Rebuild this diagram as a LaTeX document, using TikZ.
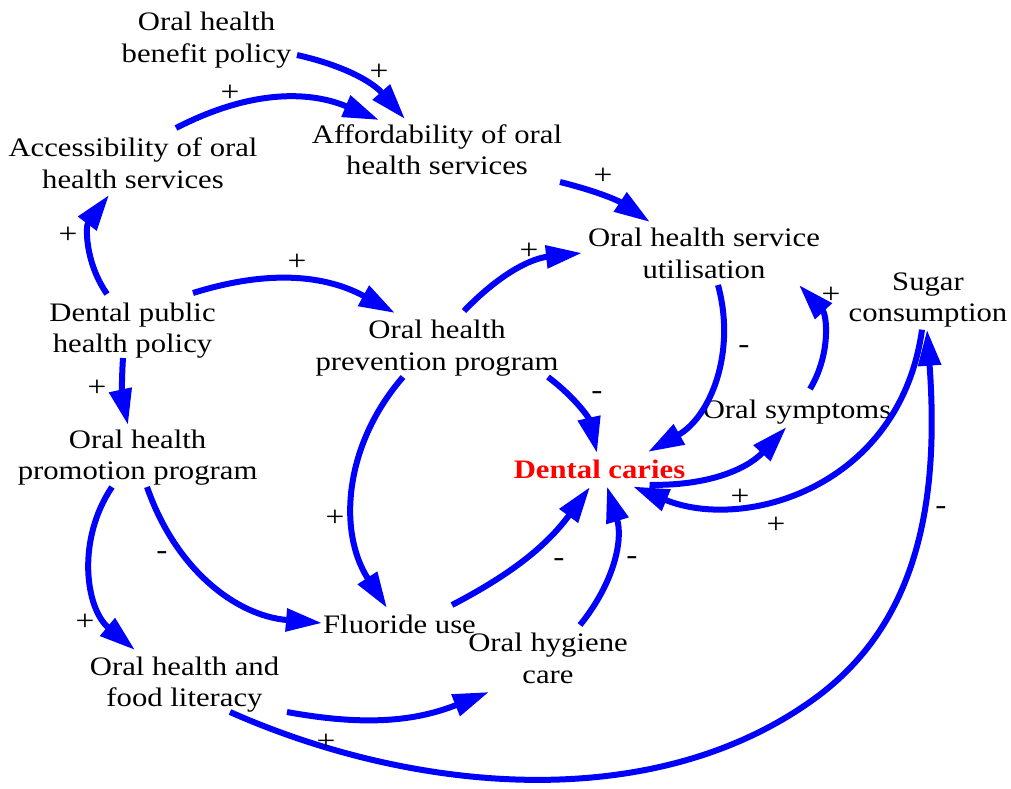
\documentclass[tikz,border=0pt]{standalone}
\usepackage{fontspec}
\setmainfont[FakeStretch=1.15]{Liberation Serif}
\usetikzlibrary{arrows.meta}
\definecolor{vblue}{RGB}{0,0,255}
\definecolor{vred}{RGB}{255,0,0}
\begin{document}
\begin{tikzpicture}[x=1pt,y=-1pt,
  var/.style={align=center, inner sep=0pt, font=\fontsize{26.7}{31.4}\selectfont},
  keyvar/.style={var, font=\fontsize{26.7}{31.4}\selectfont\bfseries, text=vred},
  pol/.style={inner sep=0pt, font=\fontsize{29}{31.4}\selectfont},
  link/.style={draw=vblue, line width=6pt, -{Triangle[length=36pt,width=22pt]}},
]
\useasboundingbox (0,0) rectangle (1011,788);

% variables
\node[var] (ben) at (206.5,40.2) {Oral health\\benefit policy};
\node[var] (acc) at (133,163.4) {Accessibility of oral\\health services};
\node[var] (aff) at (437,149.9) {Affordability of oral\\health services};
\node[var] (uti) at (704,253.2) {Oral health service\\utilisation};
\node[var] (sug) at (928,300.1) {Sugar\\consumption};
\node[var] (sym) at (797,411.8) {Oral symptoms};
\node[keyvar] (car) at (599.5,468.9) {Dental caries};
\node[var] (dph) at (132.5,330.6) {Dental public\\health policy};
\node[var] (pre) at (437,348.3) {Oral health\\prevention program};
\node[var] (pro) at (137.6,457.8) {Oral health\\promotion program};
\node[var] (flu) at (399.5,623.9) {Fluoride use};
\node[var] (hyg) at (548,658.3) {Oral hygiene\\care};
\node[var] (lit) at (184.5,684.6) {Oral health and\\food literacy};
\coordinate (m13) at (814,699);

% links
\draw[link] ([shift={(90.5,14.8)}]ben.center) to[bend left=18] ([shift={(-32,-30.9)}]aff.center);
\draw[link] ([shift={(43,-35.4)}]acc.center) to[bend left=25] ([shift={(-58,-29.9)}]aff.center);
\draw[link] ([shift={(123,32.1)}]aff.center) to[bend left=10] ([shift={(-54,-31.2)}]uti.center);
\draw[link] ([shift={(-25.5,-36.6)}]dph.center) to[bend left=36] ([shift={(-24,31.6)}]acc.center);
\draw[link] ([shift={(60.5,-37.6)}]dph.center) to[bend left=23] ([shift={(-42,-35.3)}]pre.center);
\draw[link] ([shift={(-9.5,27.4)}]dph.center) to[bend right=8] ([shift={(-9.6,-32.8)}]pro.center);
\draw[link] ([shift={(27,-37.3)}]pre.center) to[bend left=20] ([shift={(-122,-0.2)}]uti.center);
\draw[link] ([shift={(111,28.7)}]pre.center) to[bend left=20] ([shift={(-2.5,-15.9)}]car.center);
\draw[link] ([shift={(14,31.8)}]uti.center) to[bend left=38] ([shift={(48.5,-17)}]car.center);
\draw[link] ([shift={(13,-22.8)}]sym.center) to[bend right=37] ([shift={(95,31.8)}]uti.center);
\draw[link] ([shift={(50,15.9)}]car.center) to[bend right=24] ([shift={(-10.5,15.2)}]sym.center);
\draw[link] ([shift={(-6,29.6)}]sug.center) .. controls +(-22.1,158.4) and +(110.4,45.6) .. ([shift={(33.5,17.6)}]car.center);
\draw[link] ([shift={(45.5,27.4)}]lit.center) .. controls +(182.8,81) and +(-162,117.2) .. (m13)
  .. controls +(105.3,-76.2) and +(12.3,169.6) .. ([shift={(-1,29.6)}]sug.center);
\draw[link] ([shift={(-34,28.7)}]pre.center) to[bend right=37] ([shift={(-12.5,-15.9)}]flu.center);
\draw[link] ([shift={(52.5,-18.9)}]flu.center) to[bend right=13] ([shift={(-9.5,18.1)}]car.center);
\draw[link] ([shift={(32,-33.3)}]hyg.center) to[bend right=28] ([shift={(7.5,17.5)}]car.center);
\draw[link] ([shift={(-25.6,29.2)}]pro.center) to[bend right=42] ([shift={(-49.5,-34.6)}]lit.center);
\draw[link] ([shift={(9.4,29.2)}]pro.center) to[bend right=33] ([shift={(-77.5,-0.9)}]flu.center);
\draw[link] ([shift={(102.5,27.4)}]lit.center) to[bend right=16] ([shift={(-59,33.7)}]hyg.center);

% polarities
\node[pol] (p1) at (379,72) {+};
\node[pol] (p2) at (230,93) {+};
\node[pol] (p3) at (603,176) {+};
\node[pol] (p4) at (68,235) {+};
\node[pol] (p5) at (297,262) {+};
\node[pol] (p6) at (97,388) {+};
\node[pol] (p7) at (529,251) {+};
\node[pol] (p8) at (597,396) {-};
\node[pol] (p9) at (744,350) {-};
\node[pol] (p10) at (831,295) {+};
\node[pol] (p11) at (740,497) {+};
\node[pol] (p12) at (776,525) {+};
\node[pol] (p13) at (941,511) {-};
\node[pol] (p14) at (335,518) {+};
\node[pol] (p15) at (559,563) {-};
\node[pol] (p16) at (632,561) {-};
\node[pol] (p17) at (85,622) {+};
\node[pol] (p18) at (162,556) {-};
\node[pol] (p19) at (326,742) {+};
\end{tikzpicture}
\end{document}
